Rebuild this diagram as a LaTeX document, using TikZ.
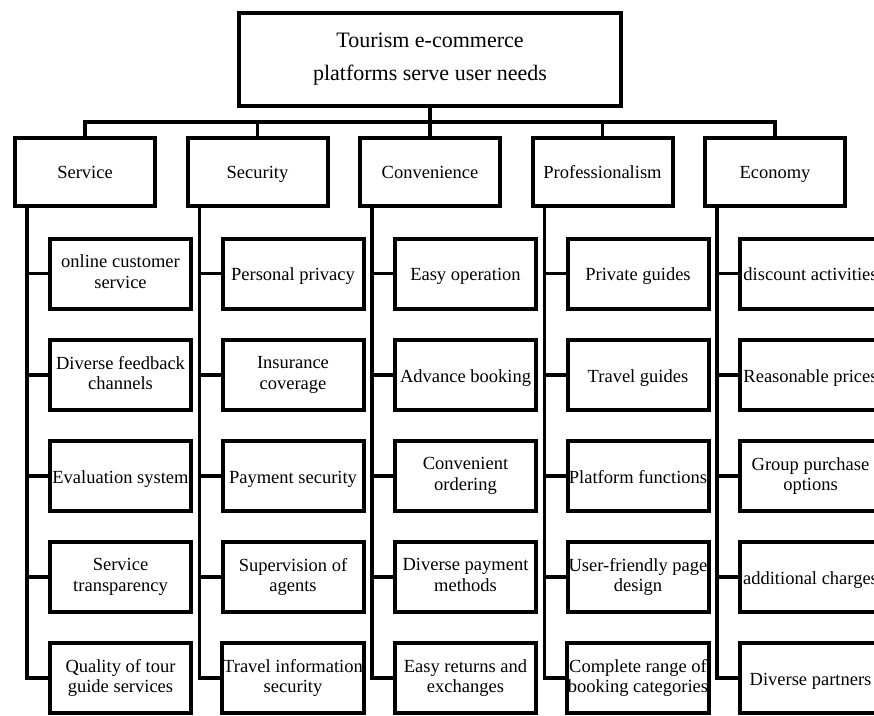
\documentclass[tikz,border=0pt]{standalone}
\usepackage{fontspec}
\setmainfont{Liberation Serif}
\usetikzlibrary{shadows}
\begin{document}
\begin{tikzpicture}[x=1pt,y=-1pt,
  boxstyle/.style={draw=black, line width=4pt, fill=white, align=center, inner sep=1pt,
    drop shadow={opacity=0.25, shadow xshift=1.5pt, shadow yshift=-1.5pt}},
  rootbox/.style={boxstyle, minimum width=382pt, minimum height=93pt,
    execute at begin node={\rule{0pt}{20pt}},
    execute at end node={\rule[-5pt]{0pt}{0pt}},
    font=\fontsize{22}{32.6}\selectfont},
  catbox/.style={boxstyle, minimum width=140pt, minimum height=68pt,
    execute at begin node={\rule{0pt}{17.4pt}},
    execute at end node={\rule[-4pt]{0pt}{0pt}},
    font=\fontsize{18.5}{20.8}\selectfont},
  subbox/.style={boxstyle, minimum width=141pt, minimum height=70pt,
    execute at begin node={\rule{0pt}{18.5pt}},
    execute at end node={\rule[-4pt]{0pt}{0pt}},
    font=\fontsize{18.5}{20.8}\selectfont},
  link/.style={draw=black, line width=3.5pt},
]
\useasboundingbox (0,0) rectangle (874,715);
\clip (0,0) rectangle (874,715);
\fill[white] (0,0) rectangle (874,715);

\node[rootbox] (root) at (430,59.5) {Tourism e-commerce\\platforms serve user needs};

\node[catbox] (c1) at (85,172) {Service};
\node[catbox] (c2) at (257.5,172) {Security};
\node[catbox] (c3) at (430,172) {Convenience};
\node[catbox] (c4) at (602.5,172) {Professionalism};
\node[catbox] (c5) at (775,172) {Economy};

\coordinate (bus) at (430,122);
\draw[link] (root.south) -- (bus);
\draw[link] (c1.north) |- (bus) -| (c5.north);
\foreach \i in {2,3,4} \draw[link] (c\i.north) -- (c\i.north |- bus);

% sub boxes
\foreach \i/\cx/\a/\b/\c/\d/\e in {
  1/85/{online customer\\service}/{Diverse feedback\\channels}/{Evaluation system}/{Service\\transparency}/{Quality of tour\\guide services},
  2/257.5/{Personal privacy}/{Insurance\\coverage}/{Payment security}/{Supervision of\\agents}/{Travel information\\security},
  3/430/{Easy operation}/{Advance booking}/{Convenient\\ordering}/{Diverse payment\\methods}/{Easy returns and\\exchanges},
  4/602.5/{Private guides}/{Travel guides}/{Platform functions}/{User-friendly page\\design}/{Complete range of\\booking categories},
  5/775/{discount activities}/{Reasonable prices}/{Group purchase\\options}/{additional charges}/{Diverse partners}}{
  \pgfmathsetmacro{\sx}{\cx+35.5}
  \node[subbox] (s\i1) at (\sx,273.5) {\a};
  \node[subbox] (s\i2) at (\sx,375) {\b};
  \node[subbox] (s\i3) at (\sx,476) {\c};
  \node[subbox] (s\i4) at (\sx,577) {\d};
  \node[subbox] (s\i5) at (\sx,678) {\e};
  \coordinate (t\i) at ([xshift=-58pt]c\i.south);
  \draw[link] (t\i) |- (s\i5.west);
  \foreach \j in {1,2,3,4} \draw[link] (s\i\j.west) -- (s\i\j.west -| t\i);
}
\end{tikzpicture}
\end{document}
